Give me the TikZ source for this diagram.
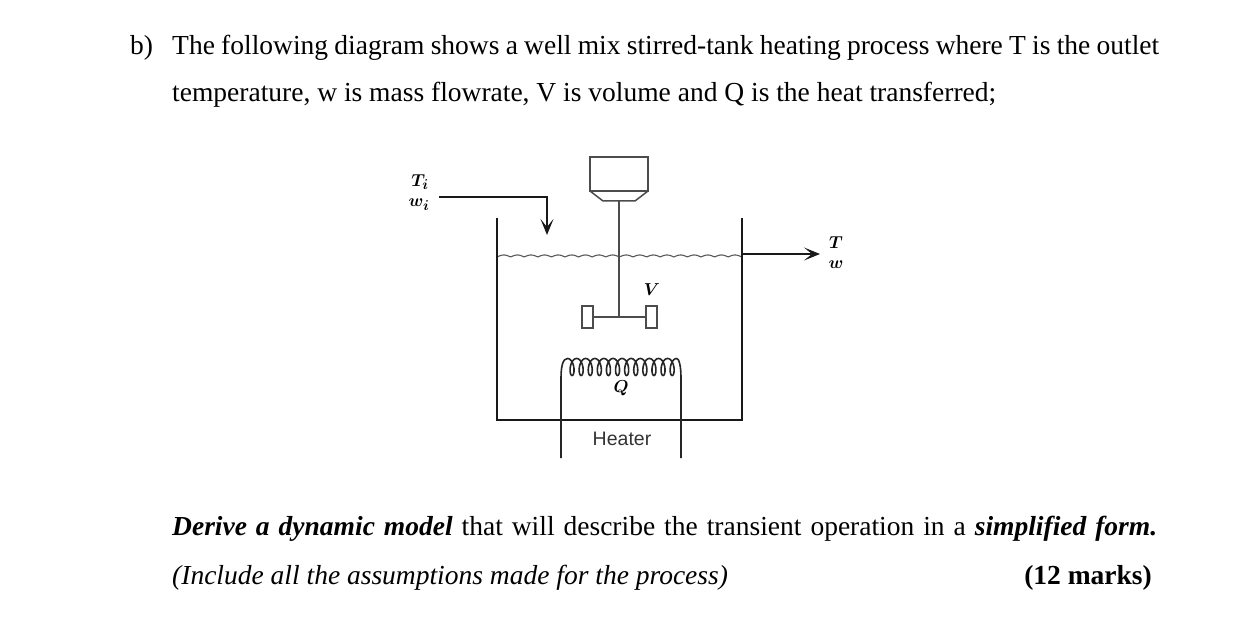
\documentclass[tikz,border=0pt]{standalone}
\usepackage{fontspec}
\setmainfont{Liberation Serif}
\newfontfamily\heaterfont{Liberation Sans}
\usetikzlibrary{arrows.meta}
\DeclareMathSizes{18.5}{17.28}{14.4}{12}
\tikzset{
  x=1pt,y=-1pt,
  bodytext/.style={anchor=base west,inner sep=0pt,font=\fontsize{27.5}{30}\selectfont},
  symlabel/.style={inner sep=0pt,font=\fontsize{18.5}{20}\selectfont\boldmath},
  wall/.style={draw=black!90,line width=2.4pt},
  part/.style={draw=black!70,line width=1.5pt},
  pipe/.style={draw=black!90,line width=2.4pt},
  flowtip/.style={-{Stealth[length=16pt,width=13pt,inset=8pt]}}
}
\begin{document}
\begin{tikzpicture}
\useasboundingbox (0,0) rectangle (1242,617);
\fill[white] (0,0) rectangle (1242,617);
% text
\node[bodytext] (bq) at (130,55) {b)};
\node[bodytext] (l1) at (172,55) {\makebox[987pt][s]{The following diagram shows a well mix stirred-tank heating process where T is the outlet}};
\node[bodytext] (l2) at (172,102) {temperature, w is mass flowrate, V is volume and Q is the heat transferred;};
\node[bodytext] (l3) at (172,535) {\makebox[985pt][s]{\textbf{\textit{Derive a dynamic model}} that will describe the transient operation in a \textbf{\textit{simplified form.}}}};
\node[bodytext] (l4) at (172,584) {\textit{(Include all the assumptions made for the process)}};
\node[bodytext,anchor=base east] (marks) at (1152,584) {\textbf{(12 marks)}};
% labels
\node[symlabel] (ti) at (420,182) {$T_i$};
\node[symlabel] (wi) at (419,205) {$w_i$};
\node[symlabel] (to) at (836,243) {$T$};
\node[symlabel] (wo) at (836,265) {$w$};
\node[symlabel] (vol) at (652,290) {$V$};
\node[symlabel] (heat) at (621,388) {$Q$};
\node[inner sep=0pt,font=\heaterfont\fontsize{19.5}{20}\selectfont,text=black!80] (heater) at (622,439) {Heater};
% coordinates
\coordinate (tankTL) at (497,218);
\coordinate (tankBL) at (497,420);
\coordinate (tankBR) at (742,420);
\coordinate (tankTR) at (742,218);
\coordinate (inS) at (439,197);
\coordinate (inC) at (547,197);
\coordinate (inE) at (547,235);
\coordinate (outS) at (742,254);
\coordinate (outE) at (820,254);
\coordinate (shaftT) at (619,201);
\coordinate (shaftB) at (619,317);
\coordinate (wireLB) at (561,458);
\coordinate (wireRB) at (681,458);
% surface
\draw[draw=black!65,line width=1.1pt] plot[domain=497:742,samples=220,smooth] (\x,{257-2*abs(sin((\x-497)/13.6*180))});
% tank
\draw[wall,line join=miter] (tankTL) -- (tankBL) -- (tankBR) -- (tankTR);
% inlet and outlet
\draw[pipe,flowtip] (inS) -- (inC) -- (inE);
\draw[pipe,flowtip] (outS) -- (outE);
% motor
\draw[part] (590,157) rectangle (648,191);
\draw[part] (590,191) -- (603,201) -- (635,201) -- (648,191);
% shaft and impeller
\draw[part] (shaftT) -- (shaftB);
\node[part,draw,minimum width=11pt,minimum height=22pt,inner sep=0pt] (padL) at (587.5,317) {};
\node[part,draw,minimum width=11pt,minimum height=22pt,inner sep=0pt] (padR) at (651.5,317) {};
\draw[part] (padL) -- (padR);
% heating coil
\draw[draw=black!85,line width=1.6pt,line join=round] (wireLB) -- (561,378) .. controls (561,366) and (563,358.5) .. (567.5,358.5)
  -- plot[domain=0:4320,samples=480,smooth] ({567.5+\x/360*9.1+4.0*sin(\x)},{367-8.5*cos(\x)})
  .. controls (679,358.5) and (681,366) .. (681,378) -- (wireRB);
\end{tikzpicture}
\end{document}
